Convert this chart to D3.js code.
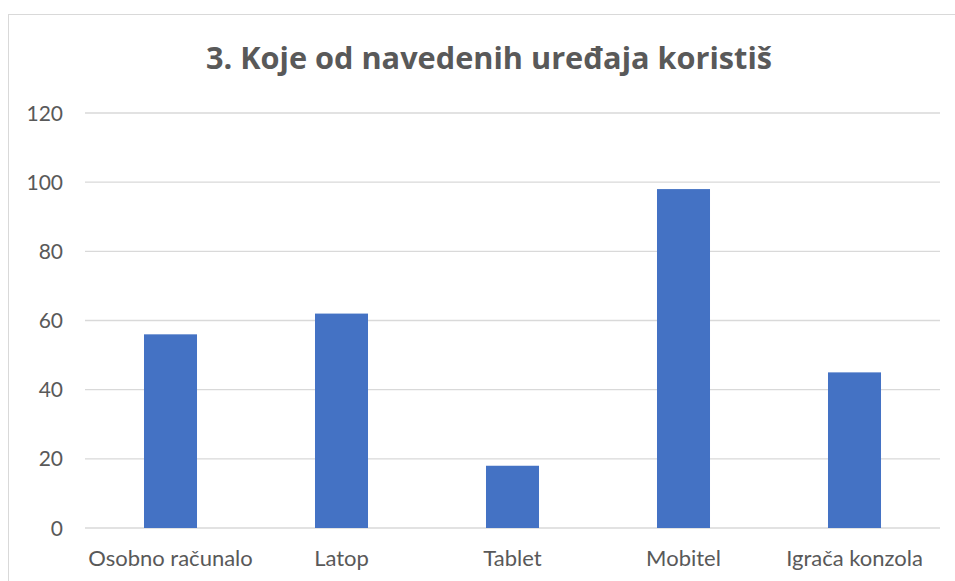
<!DOCTYPE html>
<html>
<head>
<meta charset="utf-8">
<script src="https://cdn.jsdelivr.net/npm/d3@7"></script>
<style>
  body { margin: 0; background: #fff; }
  svg { display: block; }
</style>
</head>
<body>
<svg width="955" height="581"></svg>
<script>
const categories = ['Osobno računalo', 'Latop', 'Tablet', 'Mobitel', 'Igrača konzola']
const values = [56, 62, 18, 98, 45]
const yTicks = [0, 20, 40, 60, 80, 100, 120]
const title = '3. Koje od navedenih uređaja koristiš'

const svg = d3.select('svg')
const width = +svg.attr('width')
const height = +svg.attr('height')
const font = 'Lato, "Open Sans", sans-serif'

// chart frame
svg.append('rect')
    .attr('x', 8.5)
    .attr('y', 14.5)
    .attr('width', width + 10)
    .attr('height', height + 10)
    .attr('fill', '#fff')
    .attr('stroke', '#d9d9d9')

const margin = {left: 85, right: 15, top: 113, bottom: 53}

const x = d3.scaleBand()
    .domain(categories)
    .range([margin.left, width - margin.right])
    .paddingInner(0.69)
    .paddingOuter(0.345)

const y = d3.scaleLinear()
    .domain([0, 120])
    .range([height - margin.bottom, margin.top])

// gridlines
svg.append('g')
    .selectAll('line')
    .data(yTicks)
    .join('line')
        .attr('x1', margin.left)
        .attr('x2', width - margin.right)
        .attr('y1', d => y(d))
        .attr('y2', d => y(d))
        .attr('stroke', '#d9d9d9')
        .attr('stroke-width', 1.3)

// y labels
svg.append('g')
    .selectAll('text')
    .data(yTicks)
    .join('text')
        .attr('x', 63)
        .attr('y', d => y(d))
        .attr('dy', '0.36em')
        .attr('text-anchor', 'end')
        .attr('fill', '#595959')
        .attr('font-family', font)
        .attr('font-size', 21)
        .text(d => d)

// bars
svg.append('g')
    .selectAll('rect')
    .data(values)
    .join('rect')
        .attr('x', (d, i) => x(categories[i]))
        .attr('width', x.bandwidth())
        .attr('y', d => y(d))
        .attr('height', d => y(0) - y(d))
        .attr('fill', '#4472c4')

// x labels
svg.append('g')
    .selectAll('text')
    .data(categories)
    .join('text')
        .attr('x', d => x(d) + x.bandwidth() / 2)
        .attr('y', 566)
        .attr('text-anchor', 'middle')
        .attr('fill', '#595959')
        .attr('font-family', font)
        .attr('font-size', 22)
        .text(d => d)

svg.append('text')
    .attr('x', 489)
    .attr('y', 69)
    .attr('text-anchor', 'middle')
    .attr('fill', '#595959')
    .attr('font-family', '"Open Sans", sans-serif')
    .attr('font-weight', 'bold')
    .attr('font-size', 30.7)
    .text(title)
</script>
</body>
</html>
